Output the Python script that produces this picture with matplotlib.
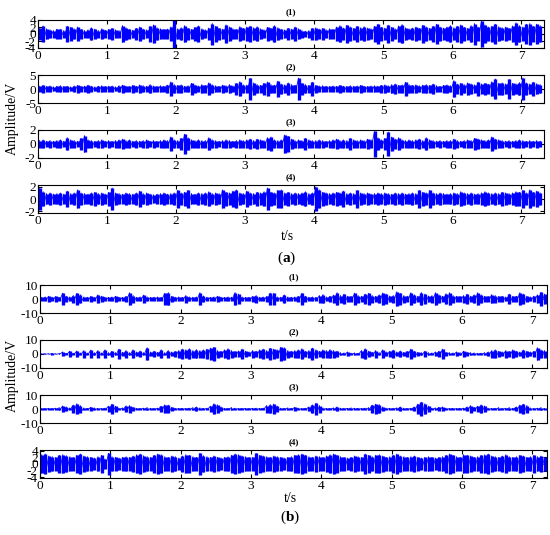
import numpy as np
import matplotlib
matplotlib.use("Agg")
import matplotlib.pyplot as plt

plt.rcParams['font.family'] = 'Liberation Serif'
plt.rcParams['mathtext.fontset'] = 'custom'
plt.rcParams['mathtext.rm'] = 'Liberation Serif'
plt.rcParams['mathtext.bf'] = 'Liberation Serif:bold'
plt.rcParams['axes.unicode_minus'] = False

# peak amplitude (V), one value per 0.05 s window
a1 = [1.6, 2.3, 1.5, 1.2, 1.0, 1.4, 1.3, 1.0, 2.2, 1.9, 1.5, 2.0, 1.3, 1.0, 1.2, 1.8, 1.4, 1.0, 1.5, 1.1,
      1.3, 1.6, 1.2, 1.0, 2.4, 1.8, 1.3, 1.1, 1.6, 2.0, 1.4, 1.2, 2.2, 2.6, 1.8, 1.5, 1.3, 1.4, 2.0, 3.9,
      1.5, 1.8, 2.4, 1.6, 1.3, 1.9, 2.3, 1.5, 1.2, 1.7, 3.0, 2.2, 1.6, 1.4, 2.6, 2.0, 1.5, 1.3, 2.1, 1.6,
      2.0, 2.2, 1.8, 2.1, 1.5, 1.2, 1.9, 1.6, 2.4, 1.8, 1.3, 1.2, 1.6, 1.4, 2.0, 1.5, 1.0, 0.8, 1.0, 1.6,
      1.8, 1.4, 1.6, 1.2, 1.5, 1.3, 2.0, 2.4, 1.7, 2.5, 2.0, 1.6, 2.2, 1.8, 2.1, 1.7, 1.5, 2.2, 2.8, 1.9,
      1.7, 2.5, 1.9, 1.5, 2.3, 2.7, 1.8, 1.5, 1.7, 2.0, 1.6, 2.5, 2.0, 1.6, 2.2, 2.8, 2.0, 1.7, 2.0, 2.4,
      1.8, 2.2, 2.6, 1.9, 1.6, 2.4, 3.0, 2.0, 3.8, 2.6, 2.0, 2.2, 2.8, 2.1, 1.8, 2.0, 1.6, 2.3, 3.2, 2.4,
      2.0, 2.8, 3.0, 2.2, 2.8, 2.4]
a2 = [1.0, 1.3, 0.9, 1.1, 0.8, 1.0, 1.2, 0.9, 1.0, 0.8, 1.1, 1.3, 0.9, 1.0, 1.4, 1.0, 0.8, 1.0, 1.2, 0.9,
      1.0, 1.1, 0.8, 1.2, 1.4, 1.0, 0.9, 1.3, 1.0, 1.5, 1.2, 1.0, 1.6, 1.1, 0.9, 1.2, 1.0, 1.4, 2.5, 1.6,
      1.3, 1.5, 1.0, 1.2, 2.0, 1.4, 1.1, 1.6, 1.3, 2.2, 1.5, 1.2, 1.0, 1.4, 1.2, 1.6, 1.1, 2.0, 2.6, 1.5,
      1.4, 3.8, 2.2, 1.6, 1.3, 2.0, 2.5, 1.6, 1.4, 2.8, 1.8, 1.5, 2.2, 1.6, 1.4, 3.9, 2.0, 1.6, 1.3, 2.4,
      1.3, 1.1, 1.2, 1.0, 0.9, 1.1, 1.0, 1.3, 1.0, 0.9, 1.2, 1.0, 1.1, 1.3, 1.0, 0.9, 1.1, 1.2, 1.0, 1.3,
      1.5, 1.2, 1.6, 1.8, 1.3, 1.5, 2.4, 1.6, 1.3, 1.5, 1.2, 1.4, 1.6, 1.3, 1.8, 1.2, 1.0, 1.3, 1.5, 1.2,
      3.0, 1.8, 2.0, 1.6, 2.2, 1.8, 1.5, 2.4, 1.8, 2.0, 1.7, 2.6, 3.6, 2.0, 2.2, 1.8, 3.4, 2.0, 1.8, 2.3,
      3.9, 2.2, 1.8, 2.4, 1.9, 1.6]
a3 = [0.5, 0.6, 0.4, 0.5, 0.4, 0.5, 0.6, 0.4, 0.9, 0.6, 0.5, 0.4, 0.8, 1.2, 0.6, 0.5, 0.4, 0.5, 0.6, 0.4,
      0.5, 0.4, 0.5, 0.6, 0.7, 0.5, 0.6, 0.4, 0.5, 0.4, 0.5, 0.6, 0.4, 0.5, 0.4, 0.5, 0.6, 0.5, 1.0, 0.6,
      0.5, 0.8, 1.4, 0.9, 0.6, 0.5, 0.6, 0.5, 0.5, 0.9, 0.6, 0.5, 0.4, 0.5, 0.6, 0.5, 0.4, 0.5, 0.6, 0.5,
      0.6, 0.7, 0.5, 0.7, 0.6, 0.5, 0.9, 1.0, 0.6, 0.5, 0.6, 1.3, 1.1, 0.7, 0.5, 0.6, 0.5, 0.8, 0.6, 0.5,
      0.5, 0.6, 0.5, 0.4, 0.5, 0.6, 0.7, 0.5, 0.6, 0.5, 0.8, 0.6, 0.5, 0.6, 0.5, 0.7, 0.6, 1.8, 0.9, 0.6,
      0.8, 1.7, 1.0, 0.7, 0.9, 0.6, 0.5, 0.6, 0.5, 0.6, 0.7, 0.5, 0.9, 0.6, 0.5, 0.4, 0.5, 0.4, 0.5, 0.5,
      0.7, 0.5, 0.4, 0.5, 0.6, 0.5, 0.8, 0.7, 0.6, 0.5, 0.6, 1.0, 0.7, 0.6, 0.5, 0.4, 0.5, 0.4, 0.5, 0.6,
      0.5, 0.4, 0.5, 0.4, 0.5, 0.4]
a4 = [1.8, 1.2, 0.9, 1.0, 0.8, 0.9, 1.0, 0.8, 1.3, 0.9, 1.0, 1.5, 1.0, 0.9, 0.8, 1.0, 1.1, 0.9, 1.0, 0.8,
      1.1, 1.8, 1.0, 0.9, 0.8, 1.0, 0.9, 0.8, 1.0, 1.3, 0.9, 1.0, 0.8, 0.7, 0.8, 0.9, 1.0, 0.8, 0.9, 1.0,
      1.4, 1.0, 1.1, 1.4, 0.9, 0.8, 1.0, 0.9, 1.0, 1.2, 0.9, 1.0, 0.9, 1.5, 1.1, 1.0, 1.3, 1.5, 1.0, 0.9,
      1.3, 1.0, 0.9, 1.1, 1.0, 1.2, 1.8, 1.1, 1.0, 1.4, 1.5, 1.0, 1.1, 0.9, 1.0, 0.9, 1.0, 1.2, 0.9, 1.0,
      2.0, 1.5, 1.1, 1.0, 0.9, 1.0, 1.1, 1.0, 1.3, 0.9, 1.0, 0.9, 1.4, 1.0, 0.9, 1.0, 0.8, 0.9, 1.0, 0.9,
      1.0, 0.9, 0.8, 1.0, 0.9, 1.0, 0.8, 0.9, 1.0, 0.9, 1.4, 1.1, 1.0, 1.4, 1.0, 0.9, 1.0, 0.9, 0.8, 0.9,
      1.0, 0.9, 1.2, 1.0, 0.9, 1.0, 0.8, 0.9, 1.0, 1.2, 1.0, 0.9, 1.0, 0.9, 1.1, 1.0, 0.9, 1.0, 1.2, 1.1,
      1.4, 1.0, 1.5, 1.1, 1.3, 1.0]

b1 = [1.2, 1.5, 2.0, 1.3, 1.8, 1.2, 4.2, 2.0, 1.5, 2.5, 4.0, 3.0, 1.5, 1.3, 1.8, 1.2, 3.0, 2.0, 1.3, 1.2,
      1.5, 2.0, 1.3, 1.2, 1.8, 4.5, 2.5, 1.3, 1.5, 2.8, 1.5, 1.2, 1.3, 1.5, 1.2, 4.0, 4.6, 2.0, 1.3, 1.5,
      1.2, 2.5, 1.5, 1.3, 1.5, 4.5, 2.2, 1.3, 1.2, 1.5, 2.0, 1.3, 1.2, 1.5, 1.3, 4.6, 3.5, 1.5, 1.2, 1.3,
      1.8, 2.5, 1.3, 1.5, 1.8, 4.2, 4.0, 1.5, 1.3, 3.0, 1.5, 1.3, 1.5, 1.8, 4.0, 2.0, 1.3, 1.5, 1.2, 2.5,
      3.2, 1.5, 2.0, 2.8, 4.5, 2.5, 3.5, 2.0, 1.8, 4.2, 2.5, 2.0, 3.5, 4.0, 2.5, 2.0, 3.0, 4.3, 3.5, 2.2,
      2.5, 5.2, 4.0, 2.5, 2.0, 4.5, 3.0, 2.0, 4.6, 3.5, 2.2, 2.5, 4.5, 3.0, 2.0, 3.8, 4.5, 2.5, 2.0, 1.8,
      2.5, 3.5, 2.0, 3.0, 4.5, 3.0, 2.0, 1.8, 3.2, 2.5, 1.8, 2.0, 1.5, 3.5, 2.0, 2.0, 4.5, 3.5, 2.0, 1.5,
      2.0, 3.0, 4.8, 3.5]
b2 = [0.3, 0.3, 0.3, 0.4, 0.3, 0.3, 1.5, 0.5, 2.0, 0.6, 2.2, 0.8, 2.5, 0.7, 2.8, 1.0, 2.5, 0.8, 3.0, 1.0,
      2.0, 1.0, 3.5, 1.2, 2.5, 1.0, 3.0, 1.5, 2.2, 1.0, 4.5, 1.5, 2.0, 1.2, 3.0, 1.0, 2.5, 1.5, 1.8, 2.5,
      3.5, 3.0, 3.8, 2.5, 3.2, 2.5, 3.0, 3.5, 4.2, 4.8, 2.5, 2.0, 3.0, 3.8, 2.5, 1.8, 2.2, 3.5, 2.0, 1.5,
      2.5, 2.0, 3.0, 3.5, 2.5, 4.0, 3.5, 3.0, 4.8, 4.5, 2.5, 2.0, 2.5, 3.0, 3.8, 2.0, 2.5, 4.2, 3.0, 2.0,
      3.0, 2.5, 3.2, 2.5, 2.0, 1.0, 0.8, 1.5, 0.6, 0.8, 0.5, 2.5, 3.8, 2.0, 1.2, 2.5, 1.0, 3.0, 1.5, 2.0,
      2.8, 1.5, 2.2, 1.2, 1.8, 3.5, 2.0, 1.2, 1.0, 2.0, 1.0, 0.8, 1.5, 2.0, 3.5, 1.2, 1.0, 0.8, 1.5, 1.0,
      2.0, 1.2, 1.0, 0.8, 0.5, 0.6, 1.0, 1.5, 2.5, 3.0, 2.0, 1.5, 2.5, 1.8, 3.0, 2.0, 1.5, 2.8, 2.0, 1.5,
      2.0, 4.5, 3.0, 2.5]
b3 = [0.4, 0.4, 0.5, 0.4, 0.6, 1.0, 2.2, 1.5, 0.8, 2.8, 3.8, 2.5, 0.8, 0.5, 1.2, 0.8, 0.5, 0.4, 0.6, 2.0,
      3.5, 2.0, 0.6, 0.8, 2.2, 2.5, 1.2, 0.5, 0.4, 0.6, 1.0, 0.5, 0.4, 0.6, 2.0, 3.0, 2.8, 1.2, 0.5, 0.4,
      0.5, 0.4, 0.6, 1.0, 1.5, 0.8, 0.5, 0.6, 2.0, 3.8, 3.0, 1.5, 0.5, 0.4, 1.0, 0.6, 0.4, 0.4, 0.5, 0.4,
      0.5, 0.6, 0.4, 0.6, 2.5, 3.2, 3.5, 2.0, 0.6, 0.4, 0.8, 0.5, 1.2, 0.6, 0.4, 0.5, 1.5, 3.0, 4.2, 2.5,
      0.8, 0.5, 0.4, 0.8, 1.5, 0.6, 0.4, 0.5, 0.8, 0.6, 0.5, 0.4, 0.6, 1.0, 2.8, 3.5, 3.2, 1.5, 0.6, 0.5,
      0.4, 0.8, 1.5, 0.6, 0.4, 0.5, 1.5, 3.5, 4.8, 3.8, 2.0, 0.6, 0.8, 1.2, 1.5, 0.6, 0.4, 0.5, 0.4, 0.5,
      0.6, 1.5, 2.5, 1.2, 2.0, 3.0, 2.2, 0.6, 0.4, 0.5, 1.0, 0.5, 0.6, 1.0, 0.5, 1.5, 2.8, 3.5, 2.5, 0.8,
      0.5, 0.6, 1.0, 0.5]
b4 = [2.8, 3.0, 2.4, 2.2, 2.0, 2.6, 2.8, 2.5, 2.2, 2.0, 2.6, 3.0, 2.4, 2.2, 2.0, 1.8, 2.2, 2.6, 1.5, 3.2,
      2.2, 2.0, 1.8, 2.0, 2.2, 2.0, 2.4, 2.8, 3.0, 2.5, 2.2, 2.0, 2.6, 3.0, 2.8, 2.2, 2.0, 2.4, 2.2, 1.8,
      2.4, 2.8, 2.6, 2.2, 2.0, 3.2, 2.5, 2.2, 2.0, 2.4, 2.0, 1.8, 2.0, 2.2, 2.6, 3.0, 2.8, 2.4, 2.2, 2.0,
      2.0, 3.2, 2.6, 2.4, 2.2, 2.0, 2.4, 2.2, 2.0, 1.8, 2.0, 2.2, 2.6, 2.8, 3.0, 2.6, 2.2, 2.0, 2.4, 2.2,
      2.0, 2.4, 2.8, 3.0, 2.6, 2.2, 2.0, 1.8, 2.0, 2.4, 2.2, 2.0, 3.0, 2.6, 2.2, 2.6, 2.8, 2.4, 2.0, 2.2,
      2.6, 3.0, 2.4, 2.2, 2.0, 2.2, 2.4, 2.0, 1.8, 2.0, 2.2, 2.0, 1.8, 2.0, 2.2, 2.6, 3.0, 2.6, 2.2, 2.0,
      2.8, 2.6, 2.4, 2.0, 2.2, 2.6, 2.8, 3.0, 2.4, 2.2, 2.0, 2.4, 2.8, 2.2, 2.0, 2.2, 2.6, 2.4, 2.0, 2.2,
      2.6, 2.2, 2.4, 2.0]

panel_labels = ['(1)', '(2)', '(3)', '(4)']
a_ylims = [4, 5, 2, 2.3]
a_yticks = [[-4, -2, 0, 2, 4], [-5, 0, 5], [-2, 0, 2], [-2, 0, 2]]
b_ylims = [10, 10, 10, 4.2]
b_yticks = [[-10, 0, 10], [-10, 0, 10], [-10, 0, 10], [-4, -2, 0, 2, 4]]

W, H = 550, 535
fig = plt.figure(figsize=(W / 100, H / 100), dpi=100)


def draw_group(signals, ylims, yticks, left, right, tops, xmax):
    for k, sig in enumerate(signals):
        sig = np.array(sig)
        t = np.arange(len(sig)) * 0.05 + 0.025
        top = tops[k]
        ax = fig.add_axes([left / W, 1 - (top + 28) / H, (right - left) / W, 28 / H])
        # one bar per window spanning its peak, plus a trace through the peaks
        ax.vlines(t, -sig, sig, color='#0000ff', lw=2.4)
        ax.plot(np.repeat(t, 2), np.column_stack([sig, -sig]).ravel(), color='#0000ff', lw=0.6)
        ax.set_xlim(0, xmax)
        ax.set_ylim(-ylims[k], ylims[k])
        ax.set_xticks(range(8))
        ax.set_yticks(yticks[k])
        ax.tick_params(direction='in', top=True, right=True, length=3, width=0.8,
                       labelsize=9.5, pad=1.5)
        for s in ax.spines.values():
            s.set_linewidth(0.8)
        ax.set_title(panel_labels[k], fontsize=6.5, fontweight='bold', pad=4)


draw_group([a1, a2, a3, a4], a_ylims, a_yticks, 38, 544, [20, 75, 130, 185], 7.33)
draw_group([b1, b2, b3, b4], b_ylims, b_yticks, 40, 547, [285, 340, 395, 450], 7.21)

fig.text(12 / W, 1 - 118 / H, 'Amplitude/V', rotation=90, ha='center', va='center', fontsize=10)
fig.text(12 / W, 1 - 375 / H, 'Amplitude/V', rotation=90, ha='center', va='center', fontsize=10)
fig.text(287 / W, 1 - 236 / H, 't/s', ha='center', va='center', fontsize=10)
fig.text(290 / W, 1 - 498 / H, 't/s', ha='center', va='center', fontsize=10)
fig.text(287 / W, 1 - 258 / H, r'($\mathbf{a}$)', ha='center', va='center', fontsize=11)
fig.text(290 / W, 1 - 517 / H, r'($\mathbf{b}$)', ha='center', va='center', fontsize=11)

fig.savefig('out.png', dpi=100)
